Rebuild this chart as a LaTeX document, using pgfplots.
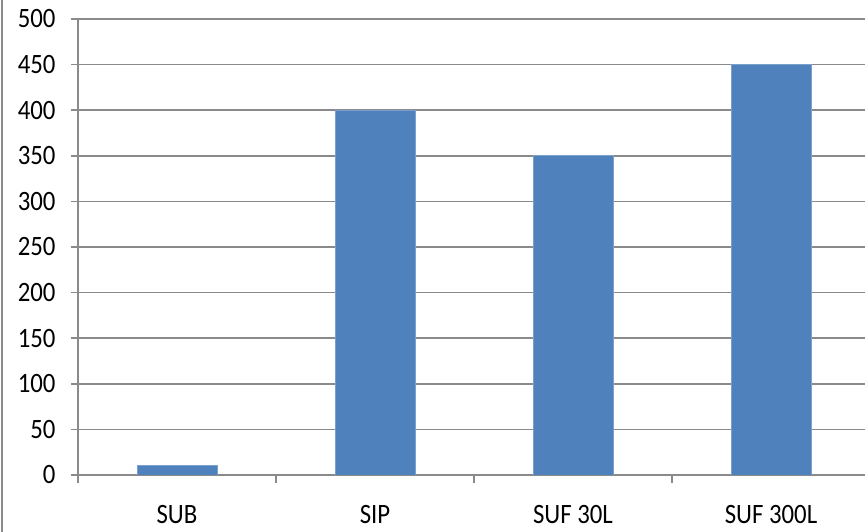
\documentclass[border=0pt]{standalone}
\usepackage{fontspec}
\setmainfont{Carlito}[FakeStretch=0.885]
\usepackage{pgfplots}
\pgfplotsset{compat=1.18}
\definecolor{barblue}{HTML}{4F81BD}
\definecolor{gridgray}{HTML}{8A8A8A}
\begin{document}
\begin{tikzpicture}[x=1pt,y=1pt]
\begin{axis}[
  at={(78pt,57pt)}, anchor=south west,
  scale only axis,
  width=792pt, height=456pt,
  xmin=0, xmax=4, ymin=0, ymax=500,
  axis x line*=bottom, axis y line*=left,
  axis line style={gridgray, line width=1.5pt, -},
  xtick={0.5,1.5,2.5,3.5},
  xticklabels={SUB, SIP, SUF 30L, SUF 300L},
  minor xtick={0,1,2,3,4},
  ytick={0,50,...,500},
  ymajorgrids,
  major grid style={gridgray, line width=1.5pt},
  tick align=outside,
  x tick style={draw=none},
  minor x tick style={draw=gridgray, line width=1.5pt},
  y tick style={draw=gridgray, line width=1.5pt},
  major tick length=7pt,
  minor tick length=8pt,
  tick label style={font=\fontsize{28}{32}\selectfont, text=black},
  /pgf/number format/assume math mode=true,
  xticklabel style={yshift=-20pt},
  yticklabel style={xshift=-12pt},
]
\addplot[ybar, bar width=80pt, fill=barblue, draw=barblue!75!white, line width=0.8pt]
  coordinates {(0.5,10) (1.5,400) (2.5,350) (3.5,450)};
\end{axis}
\draw[gridgray, line width=1.5pt] (2pt,0pt) -- (2pt,532pt);
\pgfresetboundingbox
\path (0pt,0pt) rectangle (865pt,532pt);
\end{tikzpicture}
\end{document}
